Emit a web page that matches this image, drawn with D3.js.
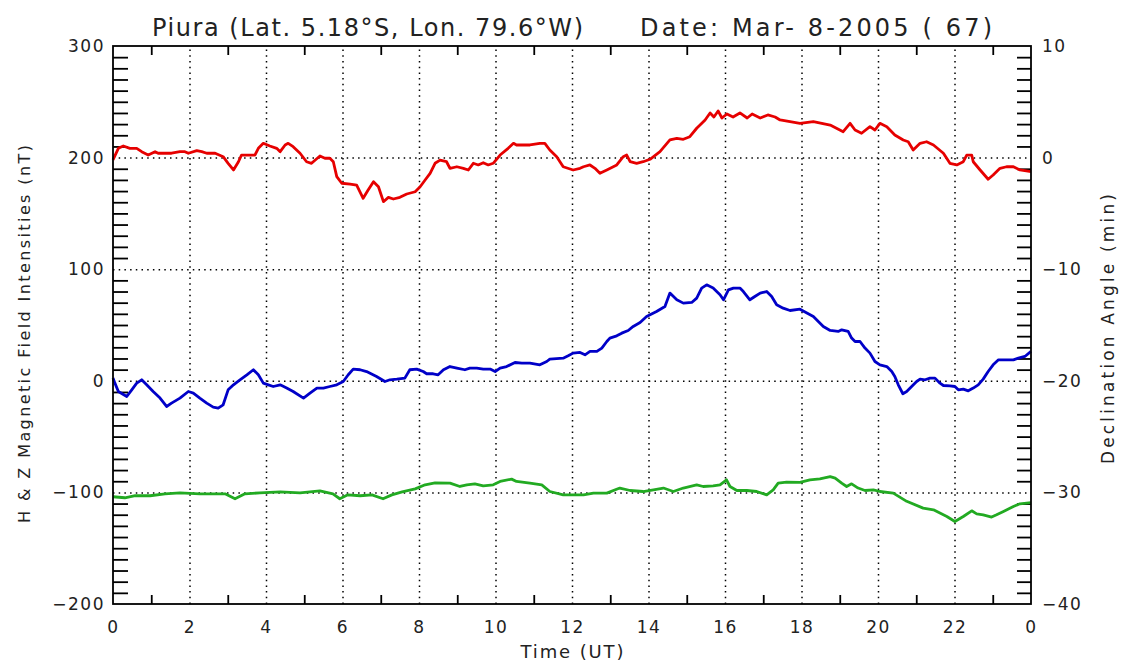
<!DOCTYPE html>
<html><head><meta charset="utf-8">
<script src="https://cdn.jsdelivr.net/npm/d3@7"></script>
<style>
html,body{margin:0;padding:0;background:#fff;}
svg{display:block;}
text{font-family:"DejaVu Sans",sans-serif;fill:#222;}
</style></head>
<body>
<script>
// ---- DATA ----
const titleLeft = "Piura (Lat. 5.18°S, Lon. 79.6°W)";
const titleRight = "Date: Mar- 8-2005 ( 67)";
const xLabel = "Time (UT)";
const yLeftLabel = "H & Z Magnetic Field Intensities (nT)";
const yRightLabel = "Declination Angle (min)";
const xTickValues = [0,2,4,6,8,10,12,14,16,18,20,22,24];
const xTickLabels = ["0","2","4","6","8","10","12","14","16","18","20","22","0"];
const yLeftTicks = [300,200,100,0,-100,-200];
const yRightTicks = [10,0,-10,-20,-30,-40];

// Declination (min), right axis - red
const redT = [0,0.14,0.27,0.44,0.62,0.75,0.92,1.10,1.18,1.36,1.53,1.75,1.88,1.97,2.19,2.32,2.45,2.67,2.88,3.01,3.15,3.28,3.36,3.71,3.80,3.93,4.10,4.28,4.37,4.50,4.58,4.71,4.89,5.06,5.19,5.41,5.54,5.67,5.76,5.85,5.98,6.20,6.37,6.54,6.67,6.81,6.94,7.07,7.20,7.33,7.50,7.68,7.90,8.03,8.16,8.29,8.42,8.55,8.72,8.81,8.99,9.16,9.29,9.42,9.55,9.68,9.81,9.94,10.12,10.33,10.47,10.55,10.90,11.16,11.29,11.42,11.60,11.77,12.03,12.21,12.30,12.47,12.60,12.73,12.91,13.17,13.34,13.43,13.52,13.69,13.86,14.04,14.30,14.56,14.74,14.91,15.08,15.26,15.48,15.61,15.71,15.82,15.92,16.05,16.21,16.39,16.58,16.71,16.92,17.12,17.31,17.44,17.96,18.31,18.75,19.09,19.27,19.40,19.57,19.79,19.92,20.05,20.23,20.44,20.66,20.79,20.92,21.10,21.27,21.45,21.71,21.88,22.06,22.23,22.32,22.45,22.49,22.67,22.88,23.01,23.19,23.36,23.54,23.71,24.0];
const redD = [-0.2,0.83,1.04,0.83,0.83,0.53,0.23,0.53,0.39,0.39,0.39,0.53,0.53,0.39,0.62,0.53,0.39,0.39,0.08,-0.51,-1.11,-0.37,0.23,0.23,0.83,1.28,1.04,0.83,0.53,1.13,1.28,0.98,0.39,-0.37,-0.51,0.14,-0.06,-0.06,-0.37,-1.71,-2.30,-2.37,-2.46,-3.65,-2.90,-2.16,-2.61,-3.95,-3.56,-3.71,-3.56,-3.26,-3.06,-2.61,-2.01,-1.41,-0.51,-0.22,-0.37,-0.96,-0.82,-0.96,-1.11,-0.51,-0.66,-0.46,-0.66,-0.51,0.23,0.83,1.28,1.13,1.13,1.28,1.28,0.68,0.08,-0.82,-1.11,-0.96,-0.82,-0.66,-0.96,-1.41,-1.11,-0.66,0.08,0.23,-0.37,-0.51,-0.37,-0.15,0.53,1.58,1.73,1.64,1.87,2.63,3.37,4.0,3.64,4.18,3.55,3.91,3.64,4.0,3.55,3.91,3.55,3.82,3.64,3.37,3.07,3.22,2.92,2.32,3.07,2.47,2.18,2.77,2.47,3.07,2.77,2.03,1.58,1.42,0.68,1.28,1.42,1.13,0.39,-0.51,-0.66,-0.37,0.23,0.23,-0.37,-1.11,-1.94,-1.56,-0.96,-0.82,-0.82,-1.11,-1.26];

// H component (nT), left axis - blue
const blueT = [0,0.05,0.14,0.36,0.49,0.62,0.75,0.88,1.05,1.23,1.40,1.53,1.75,1.97,2.10,2.27,2.45,2.62,2.75,2.88,3.01,3.15,3.32,3.50,3.67,3.80,3.93,4.06,4.19,4.37,4.54,4.71,4.98,5.15,5.33,5.50,5.67,5.85,6.02,6.15,6.28,6.46,6.63,6.89,7.11,7.24,7.42,7.63,7.76,7.94,8.11,8.20,8.37,8.50,8.64,8.81,8.99,9.20,9.33,9.51,9.68,9.86,9.99,10.12,10.29,10.51,10.69,10.90,11.16,11.34,11.42,11.77,11.90,12.03,12.21,12.34,12.47,12.65,12.78,12.91,12.99,13.17,13.30,13.47,13.60,13.78,13.95,14.21,14.43,14.56,14.74,14.91,15.13,15.26,15.39,15.52,15.69,15.87,15.96,16.09,16.22,16.39,16.48,16.65,16.78,16.92,17.09,17.22,17.35,17.52,17.70,17.96,18.31,18.57,18.75,18.96,19.05,19.22,19.31,19.40,19.53,19.66,19.79,19.92,20.05,20.23,20.36,20.44,20.53,20.65,20.75,20.88,21.01,21.10,21.23,21.36,21.49,21.62,21.71,21.88,22.01,22.10,22.23,22.36,22.49,22.62,22.75,22.88,23.01,23.15,23.28,23.54,23.67,23.84,24.0];
const blueH = [2.4,-2.1,-9.6,-14.1,-8.1,-2.1,0.9,-3.6,-9.6,-15.5,-23.0,-20.0,-15.5,-9.6,-11.0,-15.5,-20.0,-23.6,-24.5,-21.5,-8.1,-3.6,0.9,5.4,9.9,5.4,-2.1,-3.6,-5.1,-3.6,-6.5,-9.6,-15.5,-11.0,-6.5,-6.5,-5.1,-3.6,-0.6,5.4,10.5,9.9,8.3,3.9,-0.6,0.9,1.5,2.4,9.9,10.5,8.3,6.3,6.3,5.4,9.9,12.8,11.4,9.9,11.4,11.4,10.5,10.5,8.3,11.4,12.8,16.4,15.9,15.9,14.3,17.3,19.4,20.3,22.4,24.8,25.4,23.3,26.3,26.3,29.3,35.2,38.3,40.3,42.7,45.1,48.7,52.2,57.6,62.1,66.6,78.6,72.6,69.6,70.2,74.1,83.1,86.0,83.1,77.1,72.6,81.5,83.1,83.1,80.0,72.6,75.5,78.6,80.0,75.5,68.1,65.1,63.0,64.2,57.6,48.7,45.1,44.2,45.7,44.2,38.3,35.2,35.2,29.3,24.8,17.3,14.3,12.8,8.3,3.9,-3.6,-11.6,-9.6,-5.1,-0.6,1.5,0.9,2.4,2.4,-2.1,-4.2,-4.5,-5.1,-8.1,-7.4,-9.0,-6.5,-3.6,1.5,8.3,14.3,18.8,18.8,18.8,20.3,21.8,26.3];

// Z component (nT), left axis - green
const greenT = [0,0.31,0.58,0.97,1.36,1.75,2.27,2.93,3.19,3.45,3.84,4.37,4.89,5.41,5.75,5.93,6.14,6.46,6.77,7.06,7.29,7.56,7.90,8.16,8.42,8.81,9.07,9.25,9.46,9.68,9.94,10.12,10.42,10.55,10.90,11.21,11.42,11.77,12.03,12.30,12.56,12.91,13.25,13.52,13.86,14.13,14.39,14.65,14.91,15.26,15.43,15.69,15.87,16.04,16.13,16.31,16.57,16.83,17.09,17.26,17.39,17.61,17.96,18.22,18.48,18.75,18.88,19.05,19.18,19.31,19.48,19.66,19.88,20.05,20.40,20.75,21.18,21.45,21.80,22.01,22.23,22.45,22.58,22.75,22.97,23.10,23.28,23.54,23.71,24.0];
const greenZ = [-103.9,-104.8,-103.0,-103.0,-101.3,-100.4,-101.3,-101.3,-105.7,-101.3,-100.4,-99.5,-100.4,-98.6,-101.3,-105.7,-102.2,-103.0,-102.2,-105.7,-102.2,-99.5,-96.8,-93.2,-91.4,-91.7,-94.7,-93.2,-92.3,-94.1,-93.2,-90.2,-88.1,-90.2,-91.7,-93.2,-99.2,-102.2,-102.2,-102.2,-100.6,-100.6,-96.1,-98.3,-99.2,-97.7,-96.1,-99.2,-96.1,-93.2,-94.7,-94.1,-93.2,-88.7,-94.7,-98.3,-98.3,-99.2,-102.2,-97.7,-91.7,-90.8,-91.1,-88.7,-87.8,-85.8,-87.2,-91.7,-94.7,-92.3,-96.1,-98.3,-97.7,-99.2,-100.6,-108.0,-114.1,-115.6,-121.6,-126.1,-121.6,-116.5,-119.2,-120.1,-122.1,-120.1,-117.1,-112.6,-110.2,-109.1];

// ---- CHART ----
const W = 1124, H = 664;
const L = 113, R = 1031, T = 46, B = 604;
const svg = d3.select("body").append("svg").attr("width", W).attr("height", H);

const x = d3.scaleLinear().domain([0,24]).range([L,R]);
const yL = d3.scaleLinear().domain([-200,300]).range([B,T]);
const yR = d3.scaleLinear().domain([-40,10]).range([B,T]);

const dotted = "1.5,4.2";

// vertical dotted grid
svg.append("g").attr("transform",`translate(0,${B})`)
  .call(d3.axisBottom(x).tickValues(d3.range(2,23,2)).tickSize(-(B-T)).tickFormat(""))
  .call(g=>{g.select(".domain").remove(); g.selectAll("line").attr("stroke","#000").attr("stroke-width",1.5).attr("stroke-dasharray",dotted);});
// horizontal dotted grid
svg.append("g").attr("transform",`translate(${L},0)`)
  .call(d3.axisLeft(yL).tickValues([200,100,0,-100]).tickSize(-(R-L)).tickFormat(""))
  .call(g=>{g.select(".domain").remove(); g.selectAll("line").attr("stroke","#000").attr("stroke-width",1.5).attr("stroke-dasharray",dotted);});

// minor ticks
const oddHours = d3.range(1,24,2);
function styleTicks(g){ g.select(".domain").remove(); g.selectAll("line").attr("stroke","#000").attr("stroke-width",1.8); }
svg.append("g").attr("transform",`translate(0,${B})`)
  .call(d3.axisBottom(x).tickValues(oddHours).tickSize(-9).tickFormat("")).call(styleTicks);
svg.append("g").attr("transform",`translate(0,${T})`)
  .call(d3.axisTop(x).tickValues(oddHours).tickSize(-9).tickFormat("")).call(styleTicks);
const leftMinor = d3.range(-190,300,10).filter(v=>v%100!==0);
svg.append("g").attr("transform",`translate(${L},0)`)
  .call(d3.axisLeft(yL).tickValues(leftMinor).tickSize(-15).tickFormat("")).call(styleTicks);
const rightMinor = d3.range(-39,10,1).filter(v=>v%10!==0);
svg.append("g").attr("transform",`translate(${R},0)`)
  .call(d3.axisRight(yR).tickValues(rightMinor).tickSize(-14).tickFormat("")).call(styleTicks);

// data lines
function drawLine(ts, vs, yScale, color){
  const pts = ts.map((t,i)=>[t, vs[i]]);
  svg.append("path").datum(pts)
    .attr("fill","none").attr("stroke",color).attr("stroke-width",2.8)
    .attr("stroke-linejoin","round")
    .attr("d", d3.line().x(d=>x(d[0])).y(d=>yScale(d[1])));
}
drawLine(redT, redD, yR, "#e60000");
drawLine(blueT, blueH, yL, "#0000c8");
drawLine(greenT, greenZ, yL, "#22aa22");

// frame
svg.append("rect").attr("x",L).attr("y",T).attr("width",R-L).attr("height",B-T)
  .attr("fill","none").attr("stroke","#000").attr("stroke-width",1.8);

// tick labels
function styleLabels(g){ g.select(".domain").remove(); g.selectAll("text").attr("font-size",17).attr("font-family","DejaVu Sans").attr("fill","#222").style("letter-spacing","1.5px"); }
svg.append("g").attr("transform",`translate(0,${B})`)
  .call(d3.axisBottom(x).tickValues(xTickValues).tickSize(0).tickPadding(17).tickFormat((d,i)=>xTickLabels[i]))
  .call(styleLabels);
svg.append("g").attr("transform",`translate(${L},0)`)
  .call(d3.axisLeft(yL).tickValues(yLeftTicks).tickSize(0).tickPadding(8).tickFormat(d=>d<0?"\u2212"+Math.abs(d):String(d)))
  .call(styleLabels);
svg.append("g").attr("transform",`translate(${R},0)`)
  .call(d3.axisRight(yR).tickValues(yRightTicks).tickSize(0).tickPadding(11).tickFormat(d=>d<0?"\u2212"+Math.abs(d):String(d)))
  .call(styleLabels);

// titles
svg.append("text").attr("x",152).attr("y",36).attr("font-size",24)
  .attr("textLength",431).attr("lengthAdjust","spacing").text(titleLeft);
svg.append("text").attr("x",640).attr("y",36).attr("font-size",24)
  .attr("textLength",352).attr("lengthAdjust","spacing").text(titleRight);
svg.append("text").attr("x",572).attr("y",658).attr("font-size",18).attr("text-anchor","middle")
  .attr("textLength",103).attr("lengthAdjust","spacing").text(xLabel);
svg.append("text").attr("transform","translate(30,334) rotate(-90)").attr("font-size",16).attr("text-anchor","middle")
  .attr("textLength",378).attr("lengthAdjust","spacing").text(yLeftLabel);
svg.append("text").attr("transform","translate(1114,329) rotate(-90)").attr("font-size",17).attr("text-anchor","middle")
  .attr("textLength",270).attr("lengthAdjust","spacing").text(yRightLabel);
</script>
</body></html>
